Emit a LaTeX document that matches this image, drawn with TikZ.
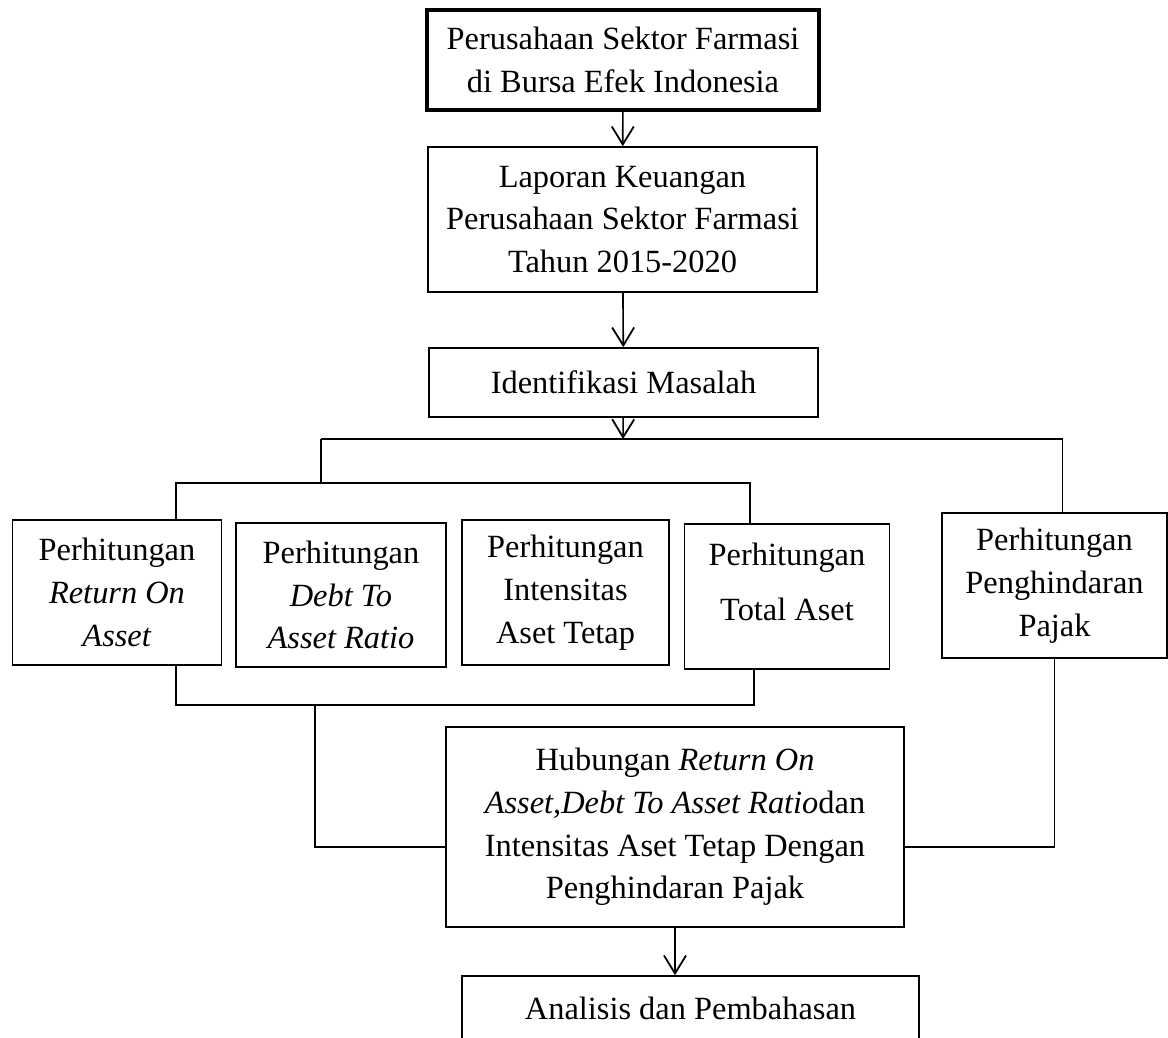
\documentclass[tikz,border=0pt]{standalone}
\usepackage{fontspec}
\setmainfont{Liberation Serif}
\usetikzlibrary{arrows.meta,calc}

\begin{document}
\begin{tikzpicture}[x=0.5pt,y=-0.5pt]
\clip (0,0) rectangle (1168,1038);

\begin{scope}[every node/.style={rectangle,draw,line width=0.8pt,inner sep=0pt,
              align=center,font=\fontsize{16.2}{21.4}\selectfont}]
    \node[line width=1.8pt,minimum width=196pt,minimum height=50pt] (bei) at (623,60)
        {Perusahaan Sektor Farmasi\\ di Bursa Efek Indonesia};
    \node[minimum width=194.5pt,minimum height=72.5pt] (lap) at (622.5,219.5)
        {Laporan Keuangan\\ Perusahaan Sektor Farmasi\\ Tahun 2015-2020};
    \node[minimum width=194.5pt,minimum height=34.5pt] (idm) at (623.5,382.5)
        {Identifikasi Masalah};

    \node[minimum width=104.5pt,minimum height=72.5pt] (roa) at (117,592.5)
        {Perhitungan\\ \textit{Return On}\\ \textit{Asset}};
    \node[minimum width=105pt,minimum height=72pt] (dar) at (341,595)
        {Perhitungan\\ \textit{Debt To}\\ \textit{Asset Ratio}};
    \node[minimum width=103.5pt,minimum height=72.5pt] (int) at (565.5,592.5)
        {Perhitungan\\ Intensitas\\ Aset Tetap};
    \node[minimum width=102.5pt,minimum height=72.5pt,text depth=15pt] (tot) at (787,596.5)
        {Perhitungan\\[6pt] Total Aset};
    \node[minimum width=112.5pt,minimum height=72.5pt] (pjk) at (1054.5,585.5)
        {Perhitungan\\ Penghindaran\\ Pajak};

    \node[minimum width=229pt,minimum height=100pt] (hub) at (675,827)
        {Hubungan \textit{Return On}\\ \textit{Asset,Debt To Asset Ratio}dan\\
         Intensitas Aset Tetap Dengan\\ Penghindaran Pajak};
    \node[minimum width=228.5pt,minimum height=32pt] (ana) at (690.5,1008)
        {Analisis dan Pembahasan};
\end{scope}

% bus lines
\coordinate (tL) at (321,439);
\coordinate (tM) at (623,439);
\coordinate (tR) at (1062.5,439);
\coordinate (mL) at (176,483);
\coordinate (mM) at (321,483);
\coordinate (mR) at (750,483);
\coordinate (bL) at (176,705);
\coordinate (bM) at (315,705);
\coordinate (bR) at (754,705);

\begin{scope}[every path/.style={draw=black,line width=0.8pt},
              arr/.style={-{Straight Barb[length=9pt,width=11pt,line width=0.9pt]}}]
    \path [arr] (bei) -- (lap);
    \path [arr] (lap) -- (idm);
    \path [arr] (idm) -- (tM);
    \path [arr] (hub.south) -- (hub.south |- ana.north);

    \path [-] (tL) -- (tR) -- (tR |- pjk.north);
    \path [-] (tL) -- (mM);
    \path [-] (mL |- roa.north) -- (mL) -- (mR) -- (mR |- tot.north);
    \path [-] (bL |- roa.south) -- (bL) -- (bR) -- (bR |- tot.south);
    \path [-] (bM) |- ($(hub.west)+(0,20)$);
    \path [-] (pjk.south) |- ($(hub.east)+(0,20)$);
\end{scope}
\end{tikzpicture}
\end{document}
